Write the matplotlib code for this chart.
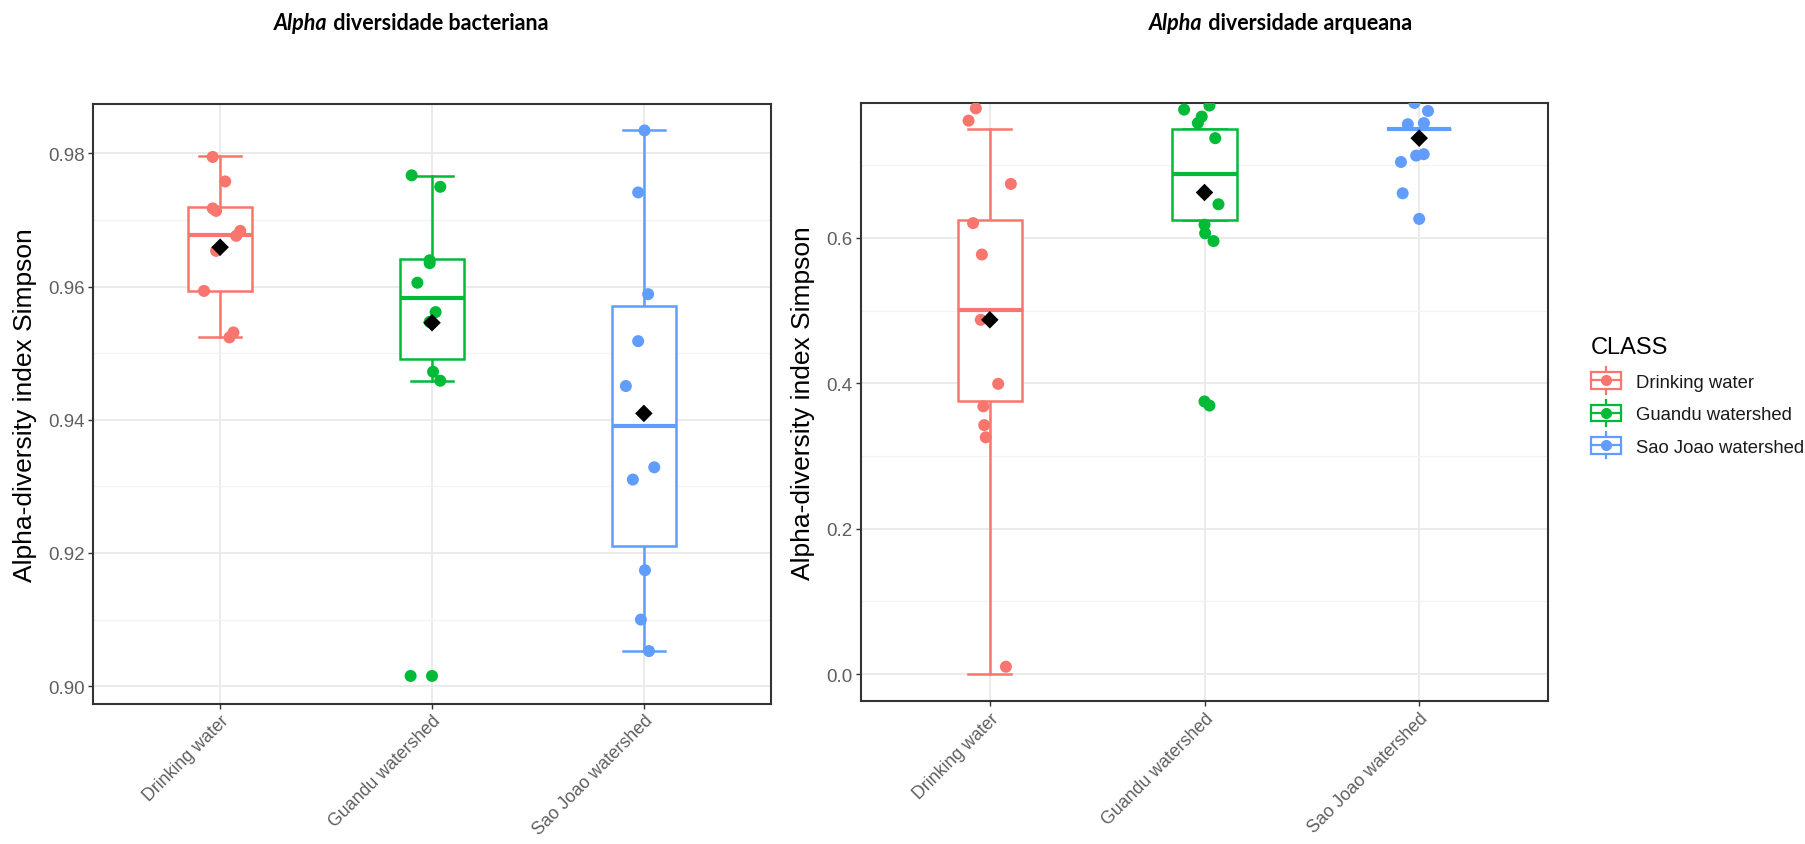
import matplotlib
matplotlib.use("Agg")
import matplotlib.pyplot as plt
from matplotlib.legend_handler import HandlerBase
from matplotlib.patches import Rectangle, Patch
from matplotlib.lines import Line2D

plt.rcParams['font.family'] = ['Liberation Sans', 'DejaVu Sans']

classes = ["Drinking water", "Guandu watershed", "Sao Joao watershed"]
class_colors = ["#F8766D", "#00BA38", "#619CFF"]

# Simpson index per sample, bacteria
bac_values = [
    [0.97945, 0.97577, 0.97172, 0.97135, 0.96835, 0.96761, 0.96535, 0.95934, 0.95310, 0.95236],
    [0.97669, 0.97497, 0.96394, 0.96351, 0.96057, 0.95616, 0.95468, 0.94720, 0.94586, 0.90154, 0.90154],
    [0.98343, 0.97412, 0.95885, 0.95180, 0.94506, 0.93286, 0.93102, 0.91741, 0.91000, 0.90527],
]
bac_jitter = [
    [-0.035, 0.024, -0.035, -0.019, 0.095, 0.076, -0.019, -0.076, 0.063, 0.044],
    [-0.096, 0.039, -0.011, -0.011, -0.069, 0.017, -0.011, 0.005, 0.039, -0.101, 0.0],
    [0.003, -0.027, 0.020, -0.027, -0.085, 0.049, -0.052, 0.005, -0.014, 0.024],
]
bac_q1 = [0.95928, 0.94910, 0.92097]
bac_med = [0.96774, 0.95830, 0.93911]
bac_q3 = [0.97191, 0.96418, 0.95701]
bac_lo = [0.95248, 0.94586, 0.90527]
bac_hi = [0.97957, 0.97663, 0.98343]
bac_mean = [0.96590, 0.95456, 0.94095]

# Simpson index per sample, archaea
arc_values = [
    [0.7780, 0.7611, 0.6741, 0.6202, 0.5770, 0.4872, 0.3991, 0.3682, 0.3424, 0.3256, 0.0101],
    [0.7763, 0.7819, 0.7667, 0.7578, 0.7370, 0.6461, 0.6180, 0.6062, 0.5955, 0.3749, 0.3693],
    [0.7855, 0.7744, 0.7562, 0.7578, 0.7130, 0.7150, 0.7043, 0.6612, 0.6260],
]
arc_jitter = [
    [-0.065, -0.099, 0.098, -0.078, -0.037, -0.042, 0.039, -0.030, -0.026, -0.019, 0.075],
    [-0.095, 0.023, -0.013, -0.031, 0.050, 0.065, 0.0, 0.003, 0.042, 0.0, 0.023],
    [-0.022, 0.041, -0.053, 0.022, -0.014, 0.021, -0.085, -0.077, 0.0],
]
arc_q1 = [0.3749, 0.6247, 0.7499]
arc_med = [0.5007, 0.6876, 0.7499]
arc_q3 = [0.6247, 0.7499, 0.7499]
arc_lo = [0.0, 0.6247, 0.7499]
arc_hi = [0.7499, 0.7499, 0.7499]
arc_mean = [0.4872, 0.6623, 0.7370]

bac_ticks = [0.90, 0.92, 0.94, 0.96, 0.98]
bac_minor = [0.91, 0.93, 0.95, 0.97]
arc_ticks = [0.0, 0.2, 0.4, 0.6]
arc_minor = [0.1, 0.3, 0.5, 0.7]


def draw_panel(ax, values, jitter, q1, med, q3, lo, hi, means, ylim, ticks, minor, fmt):
    pos = [1, 2, 3]
    stats = []
    for i in range(3):
        stats.append(dict(med=med[i], q1=q1[i], q3=q3[i], whislo=lo[i], whishi=hi[i], fliers=[]))
    bp = ax.bxp(stats, positions=pos, widths=0.3, capwidths=0.2, patch_artist=True,
                showfliers=False, manage_ticks=False)
    for i, c in enumerate(class_colors):
        bp['boxes'][i].set(facecolor='white', edgecolor=c, linewidth=1.8, zorder=2)
        bp['medians'][i].set(color=c, linewidth=3.0, zorder=2.1)
        for ln in bp['whiskers'][2 * i:2 * i + 2] + bp['caps'][2 * i:2 * i + 2]:
            ln.set(color=c, linewidth=1.8, zorder=1.9)

    for i, c in enumerate(class_colors):
        xs = [pos[i] + j for j in jitter[i]]
        ax.scatter(xs, values[i], s=75, color=c, edgecolors='none', zorder=3)
    ax.scatter(pos, means, marker='D', s=80, color='black', edgecolors='none', zorder=4)

    ax.set_xlim(0.4, 3.6)
    ax.set_ylim(*ylim)
    ax.set_xticks(pos)
    ax.set_xticklabels(classes, rotation=45, ha='right', va='top', rotation_mode='anchor',
                       fontsize=12.8, color='#5f5f5f')
    ax.set_yticks(ticks)
    ax.set_yticklabels([fmt.format(t) for t in ticks], fontsize=13.5, color='#5f5f5f')
    ax.set_yticks(minor, minor=True)
    ax.tick_params(which='major', length=3.5, width=1.0, color='#333333', pad=2.5)
    ax.tick_params(which='minor', length=0)
    ax.grid(which='major', color='#EBEBEB', linewidth=1.4)
    ax.grid(which='minor', axis='y', color='#F3F3F3', linewidth=0.9)
    ax.set_axisbelow(True)
    for sp in ax.spines.values():
        sp.set_color('#333333')
        sp.set_linewidth(1.5)
    ax.set_ylabel("Alpha-diversity index Simpson", fontsize=19, color='black')


class BoxKeyHandler(HandlerBase):
    def create_artists(self, legend, orig_handle, xdescent, ydescent, width, height,
                       fontsize, trans):
        c = orig_handle.get_edgecolor()
        x0 = -xdescent
        cx = x0 + width / 2
        cy = -ydescent + height / 2
        whisk = Line2D([cx, cx], [cy - height * 0.8, cy + height * 0.8], color=c, lw=1.6)
        box = Rectangle((x0, cy - height * 0.5), width, height, facecolor='white',
                        edgecolor=c, lw=1.6)
        med = Line2D([x0, x0 + width], [cy, cy], color=c, lw=1.6)
        dot = Line2D([cx], [cy], marker='o', ms=7, color=c, ls='none')
        arts = [whisk, box, med, dot]
        for a in arts:
            a.set_transform(trans)
        return arts


fig = plt.figure(figsize=(18.05, 8.45), dpi=100)
W, H = 1805.0, 845.0

ax1 = fig.add_axes([93 / W, 1 - 704.5 / H, 678 / W, 599.5 / H])
ax2 = fig.add_axes([861 / W, 1 - 702.4 / H, 687 / W, 598.7 / H])

draw_panel(ax1, bac_values, bac_jitter, bac_q1, bac_med, bac_q3, bac_lo, bac_hi, bac_mean,
           (0.8974, 0.9874), bac_ticks, bac_minor, "{:.2f}")
draw_panel(ax2, arc_values, arc_jitter, arc_q1, arc_med, arc_q3, arc_lo, arc_hi, arc_mean,
           (-0.0376, 0.7858), arc_ticks, arc_minor, "{:.1f}")
ax1.yaxis.set_label_coords(-0.0826, 0.5)
ax2.yaxis.set_label_coords(-0.067, 0.5)

handles = [Patch(edgecolor=c, facecolor='white') for c in class_colors]
leg = fig.legend(handles, classes, handler_map={Patch: BoxKeyHandler()},
                 loc='upper left', bbox_to_anchor=(1582 / W, 1 - 328 / H),
                 frameon=False, borderpad=0, fontsize=13.3, title='CLASS',
                 title_fontsize=17, alignment='left', handlelength=1.62,
                 handleheight=1.0, handletextpad=0.8, labelspacing=0.75)
for t in leg.get_texts():
    t.set_color('#1a1a1a')

# panel titles: italic genus-style word followed by bold text
renderer = fig.canvas.get_renderer()
title_font = ['Lato', 'DejaVu Sans']
for x0, rest in [(274, " diversidade bacteriana"), (1149, " diversidade arqueana")]:
    t1 = fig.text(x0 / W, 1 - 24 / H, "Alpha", fontsize=15.5, fontweight='bold',
                  fontstyle='italic', family=title_font, va='center', ha='left')
    bb = t1.get_window_extent(renderer)
    fig.text(bb.x1 / W, 1 - 24 / H, rest, fontsize=15.5, fontweight='bold',
             family=title_font, va='center', ha='left')

fig.savefig("out.png", dpi=100)
